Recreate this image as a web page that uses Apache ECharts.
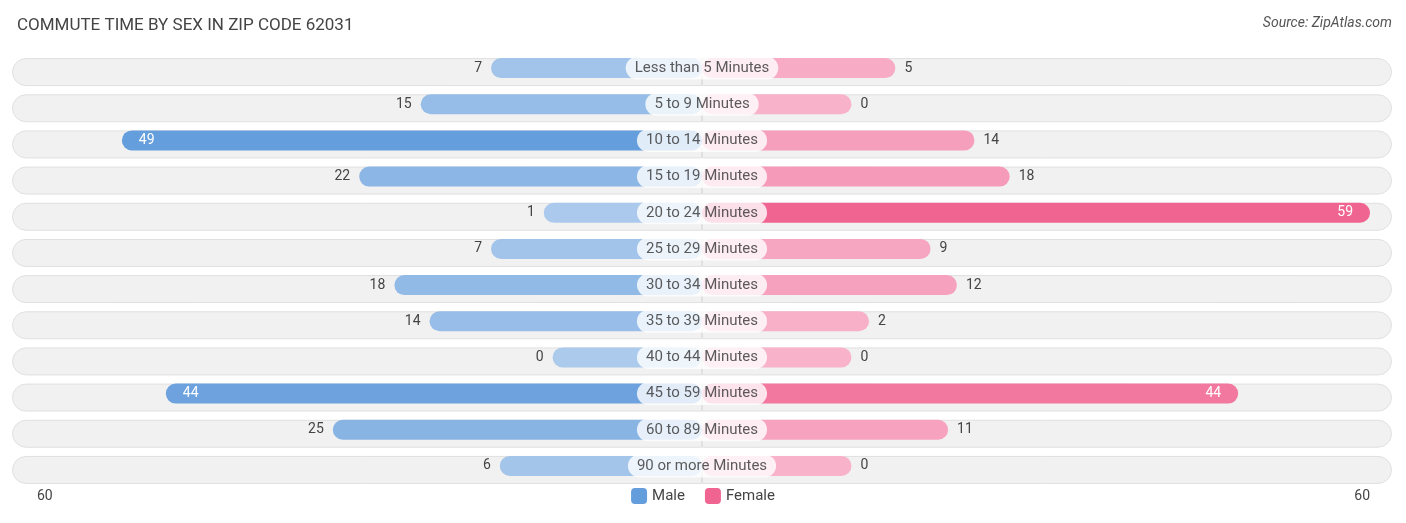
<!DOCTYPE html>
<html><head><meta charset="utf-8">
<script src="https://cdn.jsdelivr.net/npm/echarts@6/dist/echarts.min.js"></script>
<style>html,body{margin:0;padding:0;background:#fff}#c{width:1406px;height:523px}</style>
</head><body><div id="c"></div>
<script>
var categories = ['Less than 5 Minutes','5 to 9 Minutes','10 to 14 Minutes','15 to 19 Minutes','20 to 24 Minutes','25 to 29 Minutes','30 to 34 Minutes','35 to 39 Minutes','40 to 44 Minutes','45 to 59 Minutes','60 to 89 Minutes','90 or more Minutes'];
var male = [7, 15, 49, 22, 1, 7, 18, 14, 0, 44, 25, 6];
var female = [5, 0, 14, 18, 59, 9, 12, 2, 0, 44, 11, 0];
var axisMax = 60;

// room reserved in the middle for the category label
var OFF = 17, LIM = 78.5;

function mix(a, b, t) {
    var r = Math.round(a[0] + (b[0] - a[0]) * t), g = Math.round(a[1] + (b[1] - a[1]) * t), bl = Math.round(a[2] + (b[2] - a[2]) * t);
    return 'rgb(' + r + ',' + g + ',' + bl + ')';
}
function maleColor(v) { return mix([172, 202, 236], [100, 157, 220], Math.min(v / 50, 1)); }
function femaleColor(v) { return mix([248, 178, 202], [240, 100, 145], Math.min(v / 59, 1)); }

var myChart = echarts.init(document.getElementById('c'));

var maleData = male.map(function (v) {
    var big = v > 30;
    return {
        value: -(v + OFF),
        itemStyle: { color: maleColor(v) },
        label: { position: big ? 'insideLeft' : 'left', color: big ? '#fff' : '#444', padding: big ? [0, 0, 0, 12] : [0, 4, 0, 0] }
    };
});
var femaleData = female.map(function (v) {
    var big = v > 30;
    return {
        value: v + OFF,
        itemStyle: { color: femaleColor(v) },
        label: { position: big ? 'insideRight' : 'right', color: big ? '#fff' : '#444', padding: big ? [0, 12, 0, 0] : [0, 0, 0, 4] }
    };
});

var option = {
    animation: false,
    title: {
        text: 'COMMUTE TIME BY SEX IN ZIP CODE 62031',
        left: 12, top: 12,
        textStyle: { fontSize: 17, fontWeight: 'normal', color: '#444', fontFamily: 'Roboto' }
    },
    legend: {
        bottom: 14, left: 'center', itemWidth: 16, itemHeight: 16, itemGap: 20,
        textStyle: { fontSize: 15, color: '#444', fontFamily: 'Roboto' },
        data: [{ name: 'Male', itemStyle: { color: '#649ddc' } }, { name: 'Female', itemStyle: { color: '#f06491' } }]
    },
    graphic: [
        { type: 'text', right: 14, top: 16, style: { text: 'Source: ZipAtlas.com', font: 'italic 14px Roboto', fill: '#555' } },
        { type: 'text', left: 37, top: 489, style: { text: String(axisMax), font: '14px Roboto', fill: '#444' } },
        { type: 'text', right: 36, top: 489, style: { text: String(axisMax), font: '14px Roboto', fill: '#444' } }
    ],
    grid: { left: 12, right: 14, top: 50, bottom: 39 },
    xAxis: { type: 'value', min: -LIM, max: LIM, show: false },
    yAxis: { type: 'category', data: categories, inverse: true, show: false },
    series: [
        {
            type: 'bar', silent: true, barWidth: 28, barGap: '-100%',
            data: categories.map(function () { return -LIM; }),
            itemStyle: { color: '#f1f1f1', borderColor: '#e0e0e0', borderWidth: 1, borderRadius: [14, 0, 0, 14] }
        },
        {
            type: 'bar', silent: true, barWidth: 28, barGap: '-100%',
            data: categories.map(function () { return LIM; }),
            itemStyle: { color: '#f1f1f1', borderColor: '#e0e0e0', borderWidth: 1, borderRadius: [0, 14, 14, 0] }
        },
        {
            name: 'Male', type: 'bar', barWidth: 20, barGap: '-100%', data: maleData,
            itemStyle: { borderRadius: 10 },
            label: { show: true, fontSize: 14, fontFamily: 'Roboto', formatter: function (p) { return male[p.dataIndex]; } }
        },
        {
            name: 'Female', type: 'bar', barWidth: 20, barGap: '-100%', data: femaleData,
            itemStyle: { borderRadius: 10 },
            label: { show: true, fontSize: 14, fontFamily: 'Roboto', formatter: function (p) { return female[p.dataIndex]; } }
        },
        {
            type: 'scatter', symbolSize: 1, itemStyle: { color: 'transparent' }, silent: true,
            data: categories.map(function (c) { return [0, c]; }),
            label: {
                show: true, position: 'inside', formatter: function (p) { return p.value[1]; },
                backgroundColor: '#fff', borderRadius: 12, padding: [4, 9],
                fontSize: 15, color: '#333', fontFamily: 'Roboto'
            }
        }
    ]
};
myChart.setOption(option);
</script></body></html>
